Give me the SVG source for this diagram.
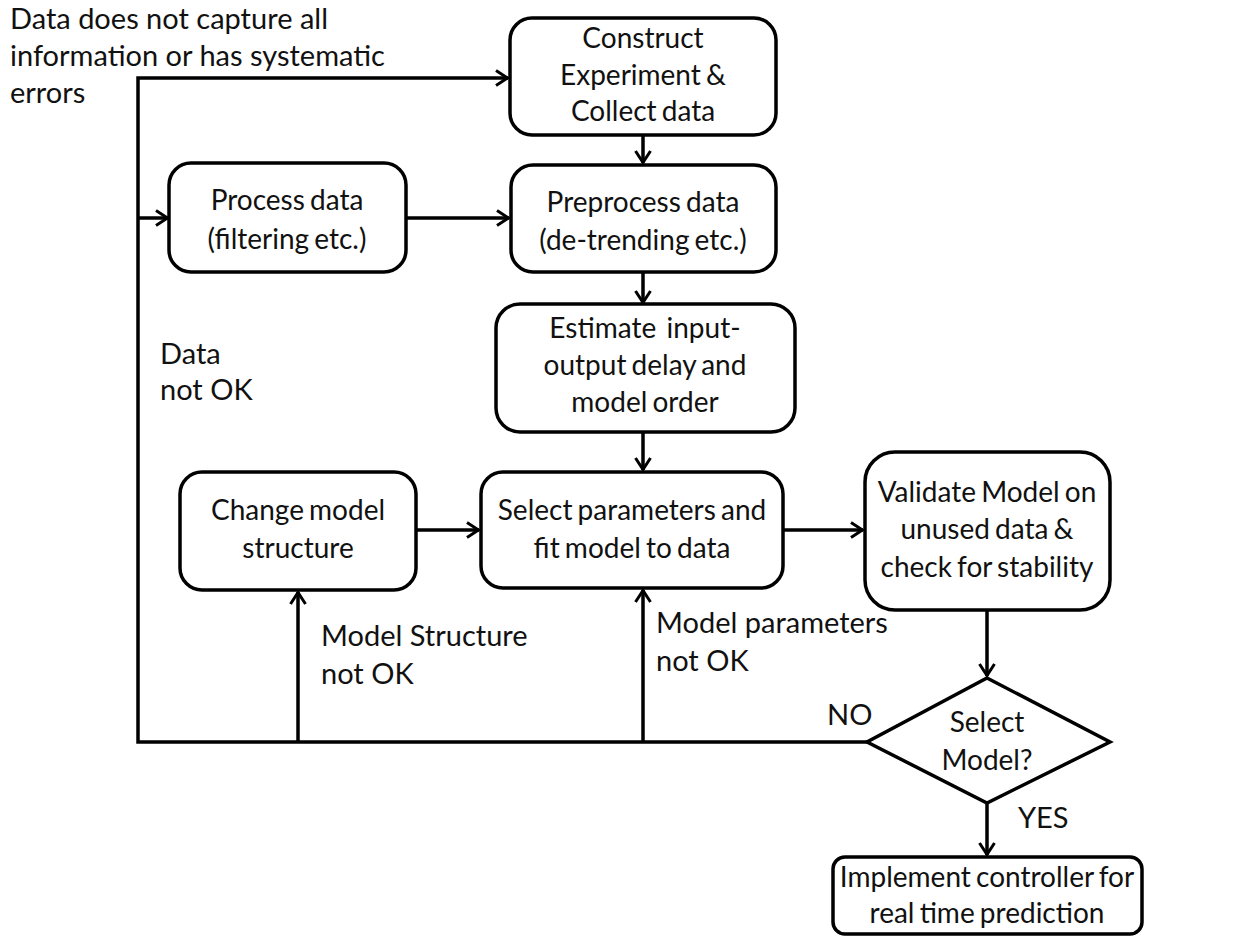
<svg xmlns="http://www.w3.org/2000/svg" width="1233" height="937" viewBox="0 0 1233 937">
  <style>
    .box { fill: #ffffff; stroke: #000000; stroke-width: 3.5; }
    .line { fill: none; stroke: #000000; stroke-width: 3.5; }
    text { font-family: Lato, "Open Sans", "Liberation Sans", sans-serif; font-size: 29px; fill: #111111; }
    .c { text-anchor: middle; font-size: 28px; word-spacing: -2px; }
  </style>
  <defs>
    <marker id="arrow" viewBox="0 0 14 18" refX="13" refY="9" markerWidth="14" markerHeight="18" markerUnits="userSpaceOnUse" orient="auto">
      <path d="M1,1.5 L12.5,9 L1,16.5" fill="none" stroke="#000000" stroke-width="3"/>
    </marker>
  </defs>
  <rect width="1233" height="937" fill="#ffffff"/>

  <!-- connectors -->
  <g id="connectors">
    <!-- feedback bus along the bottom and left side -->
    <path class="line" d="M867,742 L138,742 L138,78 L508,78" marker-end="url(#arrow)"/>
    <path class="line" d="M138,218 L168,218" marker-end="url(#arrow)"/>
    <path class="line" d="M298,742 L298,592" marker-end="url(#arrow)"/>
    <path class="line" d="M643,742 L643,590" marker-end="url(#arrow)"/>
    <!-- main flow -->
    <path class="line" d="M643,135 L643,163" marker-end="url(#arrow)"/>
    <path class="line" d="M406,218 L509,218" marker-end="url(#arrow)"/>
    <path class="line" d="M643,272 L643,303" marker-end="url(#arrow)"/>
    <path class="line" d="M643,432 L643,470" marker-end="url(#arrow)"/>
    <path class="line" d="M416,530 L479,530" marker-end="url(#arrow)"/>
    <path class="line" d="M783,530 L863,530" marker-end="url(#arrow)"/>
    <path class="line" d="M987,610 L987,676" marker-end="url(#arrow)"/>
    <path class="line" d="M987,803 L987,855" marker-end="url(#arrow)"/>
  </g>

  <!-- edge labels -->
  <g id="labels">
    <text x="10" y="29">Data does not capture all</text>
    <text x="10" y="66">information or has systematic</text>
    <text x="10" y="103">errors</text>
    <text x="160" y="364">Data</text>
    <text x="160" y="400">not OK</text>
    <text x="321" y="646">Model Structure</text>
    <text x="321" y="684">not OK</text>
    <text x="656" y="633">Model parameters</text>
    <text x="656" y="671">not OK</text>
    <text x="827" y="725">NO</text>
    <text x="1018" y="828">YES</text>
  </g>

  <g id="construct">
    <rect class="box" x="510" y="18" width="266" height="117" rx="22"/>
    <text class="c" x="643" y="48">Construct</text>
    <text class="c" x="643" y="85">Experiment &amp;</text>
    <text class="c" x="643" y="121">Collect data</text>
  </g>

  <g id="process">
    <rect class="box" x="169" y="163" width="237" height="109" rx="22"/>
    <text class="c" x="287" y="210">Process data</text>
    <text class="c" x="287" y="249">(filtering etc.)</text>
  </g>

  <g id="preprocess">
    <rect class="box" x="511" y="165" width="265" height="107" rx="22"/>
    <text class="c" x="643" y="212">Preprocess data</text>
    <text class="c" x="643" y="250">(de-trending etc.)</text>
  </g>

  <g id="estimate">
    <rect class="box" x="496" y="304" width="299" height="128" rx="24"/>
    <text class="c" x="645" y="338" style="white-space: pre">Estimate  input-</text>
    <text class="c" x="645" y="375">output delay and</text>
    <text class="c" x="645" y="412">model order</text>
  </g>

  <g id="change">
    <rect class="box" x="180" y="472" width="236" height="118" rx="22"/>
    <text class="c" x="298" y="520">Change model</text>
    <text class="c" x="298" y="558">structure</text>
  </g>

  <g id="select-params">
    <rect class="box" x="481" y="472" width="302" height="116" rx="22"/>
    <text class="c" x="632" y="520">Select parameters and</text>
    <text class="c" x="632" y="558">fit model to data</text>
  </g>

  <g id="validate">
    <rect class="box" x="865" y="452" width="245" height="158" rx="30"/>
    <text class="c" x="987" y="502">Validate Model on</text>
    <text class="c" x="987" y="539">unused data &amp;</text>
    <text class="c" x="987" y="577">check for stability</text>
  </g>

  <g id="decision">
    <polygon class="box" points="987,678 1110,742 987,803 867,742"/>
    <text class="c" x="987" y="732">Select</text>
    <text class="c" x="987" y="770">Model?</text>
  </g>

  <g id="implement">
    <rect class="box" x="833" y="857" width="309" height="77" rx="12"/>
    <text class="c" x="987" y="887">Implement controller for</text>
    <text class="c" x="987" y="923">real time prediction</text>
  </g>
</svg>
